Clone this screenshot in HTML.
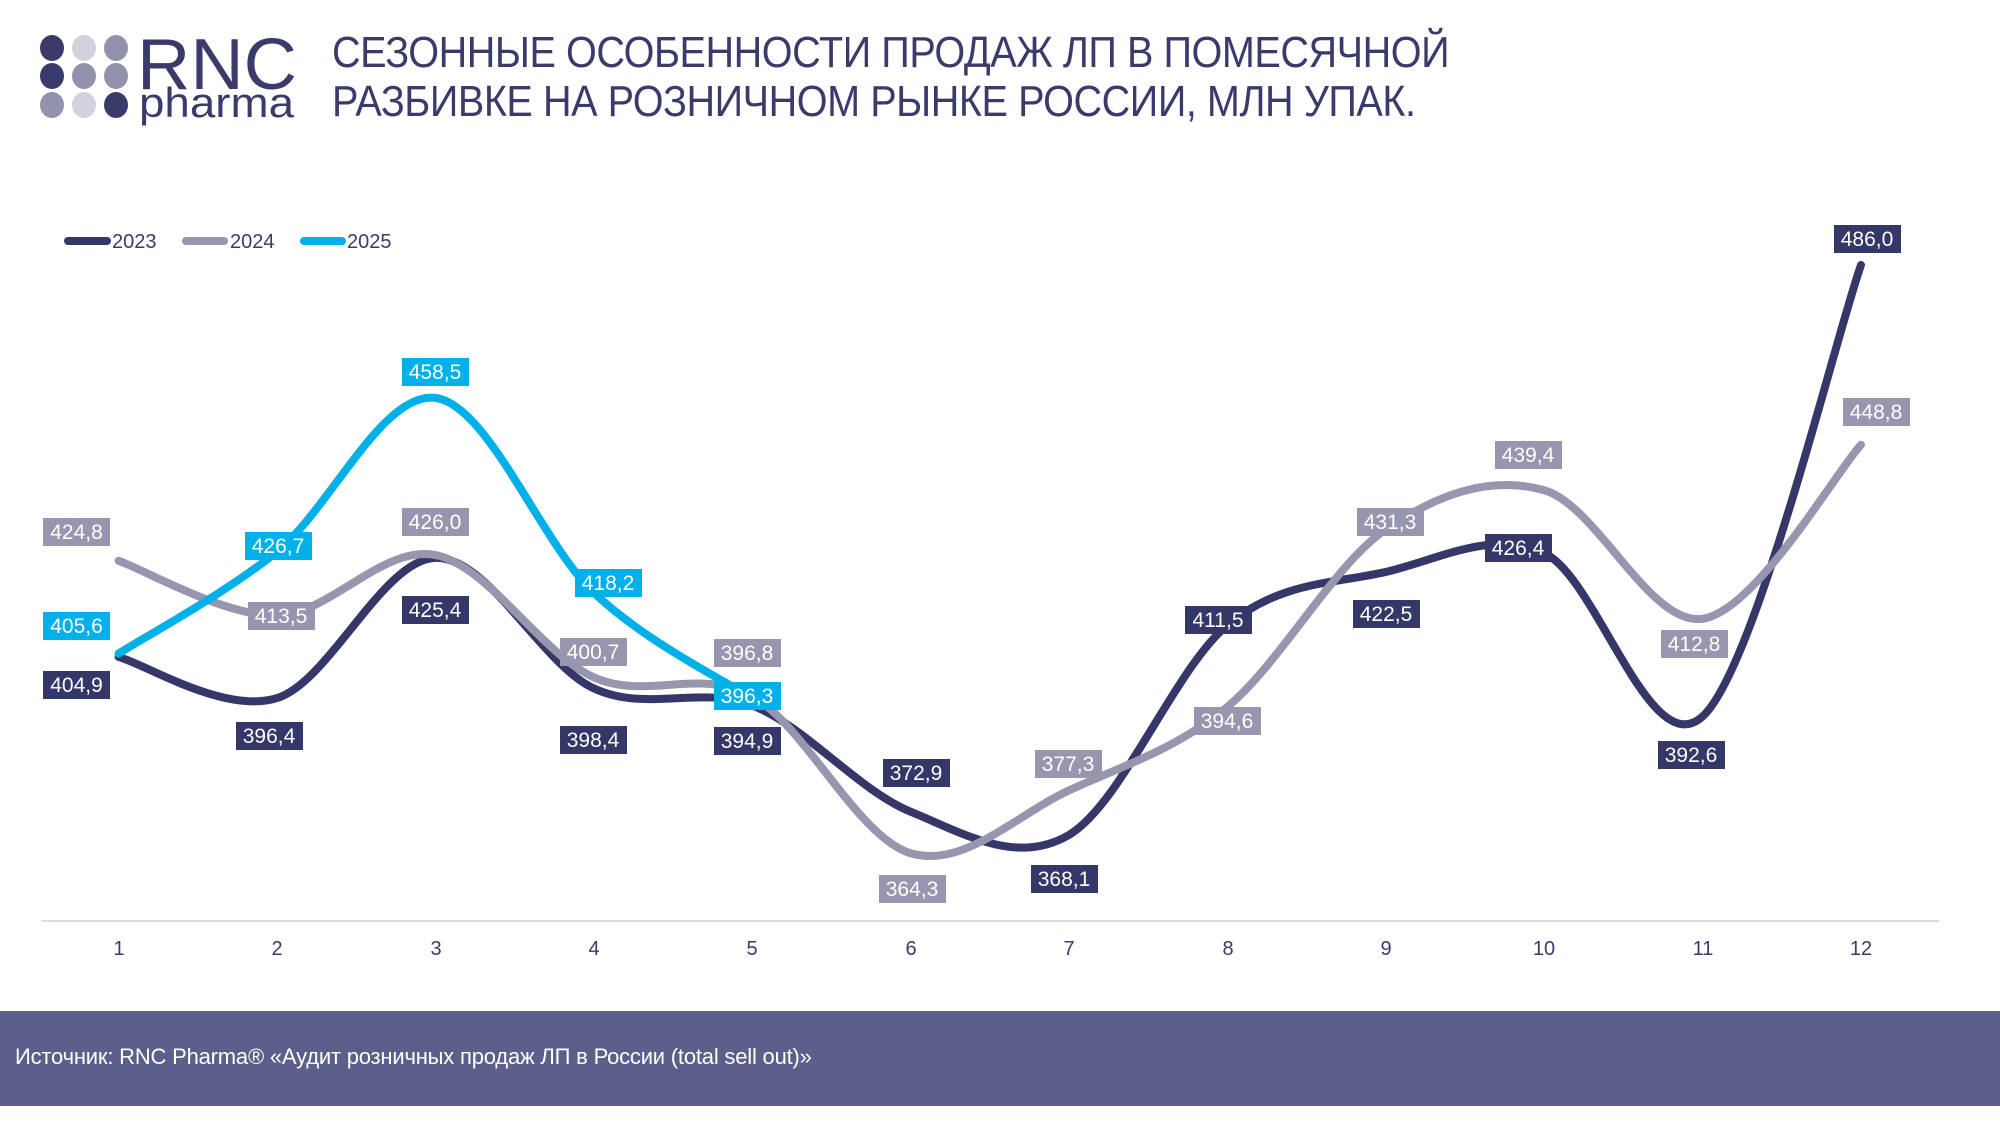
<!DOCTYPE html>
<html><head><meta charset="utf-8"><style>
html,body{margin:0;padding:0;background:#fff;}
body{width:2000px;height:1125px;position:relative;overflow:hidden;font-family:"Liberation Sans",sans-serif;}
.t{position:absolute;left:332px;color:#3a3b6b;font-size:44px;white-space:nowrap;transform-origin:0 0;transform:scaleX(0.9);letter-spacing:-0.5px;}
.foot{position:absolute;left:0;top:1011px;width:2000px;height:95px;background:#5c5f8a;}
.foot span{position:absolute;left:15px;top:33px;color:#fff;font-size:22px;letter-spacing:-0.2px;}
</style></head><body>
<svg width="2000" height="1125" style="position:absolute;left:0;top:0" font-family="Liberation Sans, sans-serif">
<g>
<ellipse cx="52" cy="48" rx="12" ry="13" fill="#3a3b6b"/><ellipse cx="84" cy="48" rx="12" ry="13" fill="#d2d2de"/><ellipse cx="116" cy="48" rx="12" ry="13" fill="#9192ab"/>
<ellipse cx="52" cy="76" rx="12" ry="13" fill="#3a3b6b"/><ellipse cx="84" cy="76" rx="12" ry="13" fill="#9192ab"/><ellipse cx="116" cy="76" rx="12" ry="13" fill="#9192ab"/>
<ellipse cx="52" cy="105" rx="12" ry="13" fill="#9192ab"/><ellipse cx="84" cy="105" rx="12" ry="13" fill="#d2d2de"/><ellipse cx="116" cy="105" rx="12" ry="13" fill="#3a3b6b"/>
<text x="137" y="89" font-size="72" fill="#3a3b6b" textLength="160" lengthAdjust="spacingAndGlyphs">RNC</text>
<text x="139" y="117" font-size="42" fill="#3a3b6b" textLength="155" lengthAdjust="spacingAndGlyphs">pharma</text>
</g>
<line x1="41" y1="921" x2="1939" y2="921" stroke="#dcdcdc" stroke-width="2"/>
<g font-size="20" fill="#3a3b6b" text-anchor="middle">
<text x="119" y="955">1</text><text x="277" y="955">2</text><text x="436" y="955">3</text><text x="594" y="955">4</text><text x="752" y="955">5</text><text x="911" y="955">6</text><text x="1069" y="955">7</text><text x="1228" y="955">8</text><text x="1386" y="955">9</text><text x="1544" y="955">10</text><text x="1703" y="955">11</text><text x="1861" y="955">12</text>
</g>
<g font-size="20" fill="#3a3b6b">
<line x1="68" y1="241" x2="107" y2="241" stroke="#343768" stroke-width="8" stroke-linecap="round"/><text x="112" y="248">2023</text>
<line x1="186" y1="241" x2="224" y2="241" stroke="#9696ae" stroke-width="8" stroke-linecap="round"/><text x="230" y="248">2024</text>
<line x1="304" y1="241" x2="342" y2="241" stroke="#00b0e8" stroke-width="8" stroke-linecap="round"/><text x="347" y="248">2025</text>
</g>
<g id="lines" fill="none" stroke-width="8" stroke-linecap="round"></g>
<g font-size="21" fill="#fff" text-anchor="middle">
<g fill="#343768">
<rect x="43" y="671" width="67" height="28"/><rect x="236" y="722" width="67" height="28"/><rect x="402" y="596" width="67" height="28"/><rect x="560" y="726" width="67" height="28"/><rect x="714" y="727" width="67" height="28"/><rect x="883" y="759" width="67" height="28"/><rect x="1031" y="865" width="67" height="28"/><rect x="1185" y="606" width="67" height="28"/><rect x="1353" y="600" width="67" height="28"/><rect x="1485" y="534" width="67" height="28"/><rect x="1658" y="741" width="67" height="28"/><rect x="1834" y="225" width="67" height="28"/>
</g>
<g fill="#9696ae">
<rect x="43" y="518" width="67" height="28"/><rect x="248" y="602" width="67" height="28"/><rect x="402" y="508" width="67" height="28"/><rect x="560" y="638" width="67" height="28"/><rect x="714" y="639" width="67" height="28"/><rect x="879" y="875" width="67" height="28"/><rect x="1035" y="750" width="67" height="28"/><rect x="1194" y="707" width="67" height="28"/><rect x="1357" y="508" width="67" height="28"/><rect x="1495" y="441" width="67" height="28"/><rect x="1661" y="630" width="67" height="28"/><rect x="1843" y="398" width="67" height="28"/>
</g>
<g fill="#00b0e8">
<rect x="43" y="612" width="67" height="28"/><rect x="245" y="532" width="67" height="28"/><rect x="402" y="358" width="67" height="28"/><rect x="575" y="569" width="67" height="28"/><rect x="714" y="682" width="67" height="28"/>
</g>
<text x="76.5" y="692">404,9</text><text x="269" y="743">396,4</text><text x="435" y="617">425,4</text><text x="593" y="747">398,4</text><text x="747" y="748">394,9</text><text x="916" y="780">372,9</text><text x="1064" y="886">368,1</text><text x="1218" y="627">411,5</text><text x="1386" y="621">422,5</text><text x="1518" y="555">426,4</text><text x="1691" y="762">392,6</text><text x="1867" y="246">486,0</text>
<text x="76.5" y="539">424,8</text><text x="281" y="623">413,5</text><text x="435" y="529">426,0</text><text x="593" y="659">400,7</text><text x="747" y="660">396,8</text><text x="912" y="896">364,3</text><text x="1068" y="771">377,3</text><text x="1227" y="728">394,6</text><text x="1390" y="529">431,3</text><text x="1528" y="462">439,4</text><text x="1694" y="651">412,8</text><text x="1876" y="419">448,8</text>
<text x="76.5" y="633">405,6</text><text x="278" y="553">426,7</text><text x="435" y="379">458,5</text><text x="608" y="590">418,2</text><text x="747" y="703">396,3</text>
</g>
</svg>
<div class="t" style="top:28px">СЕЗОННЫЕ ОСОБЕННОСТИ ПРОДАЖ ЛП В ПОМЕСЯЧНОЙ</div>
<div class="t" style="top:77px">РАЗБИВКЕ НА РОЗНИЧНОМ РЫНКЕ РОССИИ, МЛН УПАК.</div>
<div class="foot"><span>Источник: RNC Pharma® «Аудит розничных продаж ЛП в России (total sell out)»</span></div>
<script>
var X=function(i){return 118.6+i*158.4;},Y=function(v){return 657-(v-404.9)*4.834;};
var d={"#343768":[404.9,396.4,425.4,398.4,394.9,372.9,368.1,411.5,422.5,426.4,392.6,486.0],
"#9696ae":[424.8,413.5,426.0,400.7,396.8,364.3,377.3,394.6,431.3,439.4,412.8,448.8],
"#00b0e8":[405.6,426.7,458.5,418.2,396.3]};
var g=document.getElementById('lines'),s='';
for(var c in d){var p=d[c].map(function(v,i){return[X(i),Y(v)]});var str='M'+p[0][0]+','+p[0][1];
for(var i=0;i<p.length-1;i++){var p0=p[i-1]||p[i],p1=p[i],p2=p[i+1],p3=p[i+2]||p2;
str+=' C'+(p1[0]+(p2[0]-p0[0])/6)+','+(p1[1]+(p2[1]-p0[1])/6)+' '+(p2[0]-(p3[0]-p1[0])/6)+','+(p2[1]-(p3[1]-p1[1])/6)+' '+p2[0]+','+p2[1];}
s+='<path d="'+str+'" stroke="'+c+'"/>';}
g.innerHTML=s;
</script>
</body></html>
